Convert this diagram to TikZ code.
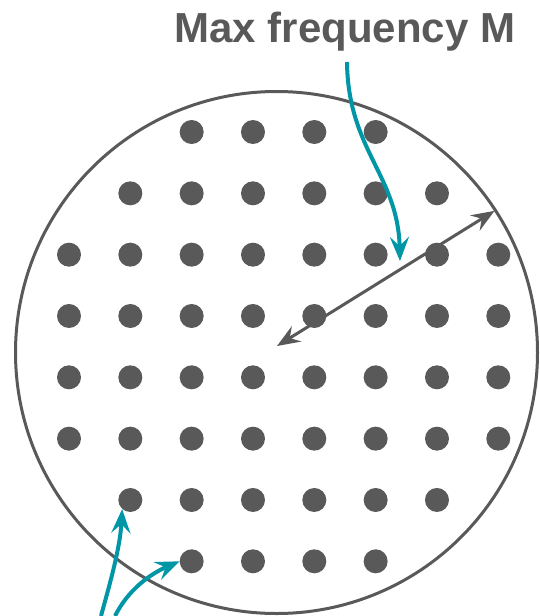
\documentclass[tikz,border=0pt]{standalone}
\usepackage{fontspec}
\newfontfamily\labelfont{Liberation Sans}
\usetikzlibrary{arrows.meta}
\definecolor{inkgray}{RGB}{89,89,89}
\definecolor{tealink}{RGB}{0,150,166}

\begin{document}
\begin{tikzpicture}[x=1pt, y=-1pt,
  dot/.style={circle, fill=inkgray, minimum size=24pt, inner sep=0pt},
  rim/.style={circle, draw=inkgray, line width=3pt, minimum size=522pt, inner sep=0pt},
  span/.style={draw=inkgray, line width=3pt, {Stealth[length=23pt,width=18pt,inset=8pt]}-{Stealth[length=23pt,width=18pt,inset=8pt]}},
  callout/.style={draw=tealink, line width=4pt, -{Stealth[length=24pt,width=19pt,inset=9pt]}}
]
\useasboundingbox (0,0) rectangle (540,616);
\node[rim] (rim) at (276.5,352.5) {};
\foreach \r/\a/\b in {1/3/6, 2/2/7, 3/1/8, 4/1/8, 5/1/8, 6/1/8, 7/2/7, 8/3/6}
  \foreach \c in {\a,...,\b}
    \node[dot] (d-\r-\c) at ({69+(\c-1)*61.33}, {132+(\r-1)*61.33}) {};
\node[anchor=base, inner sep=0pt, text=inkgray, font=\labelfont\bfseries\fontsize{42}{50}\selectfont] (label) at (345,42.7) {Max frequency M};
\coordinate (hub) at (277,346);
\coordinate (mtail) at (347,62);
\coordinate (mtip) at (400,261);
\coordinate (tailA) at (101,616);
\coordinate (tailB) at (115,616);
\draw[span, shorten >=2.5pt] (hub) -- (rim.33);
\draw[callout] (mtail) .. controls (348,150) and (398,175) .. (mtip);
\draw[callout] (tailA) .. controls (108,590) and (120,550) .. (d-7-2.228);
\draw[callout] (tailB) .. controls (128,590) and (150,574) .. (d-8-3.west);
\end{tikzpicture}
\end{document}
